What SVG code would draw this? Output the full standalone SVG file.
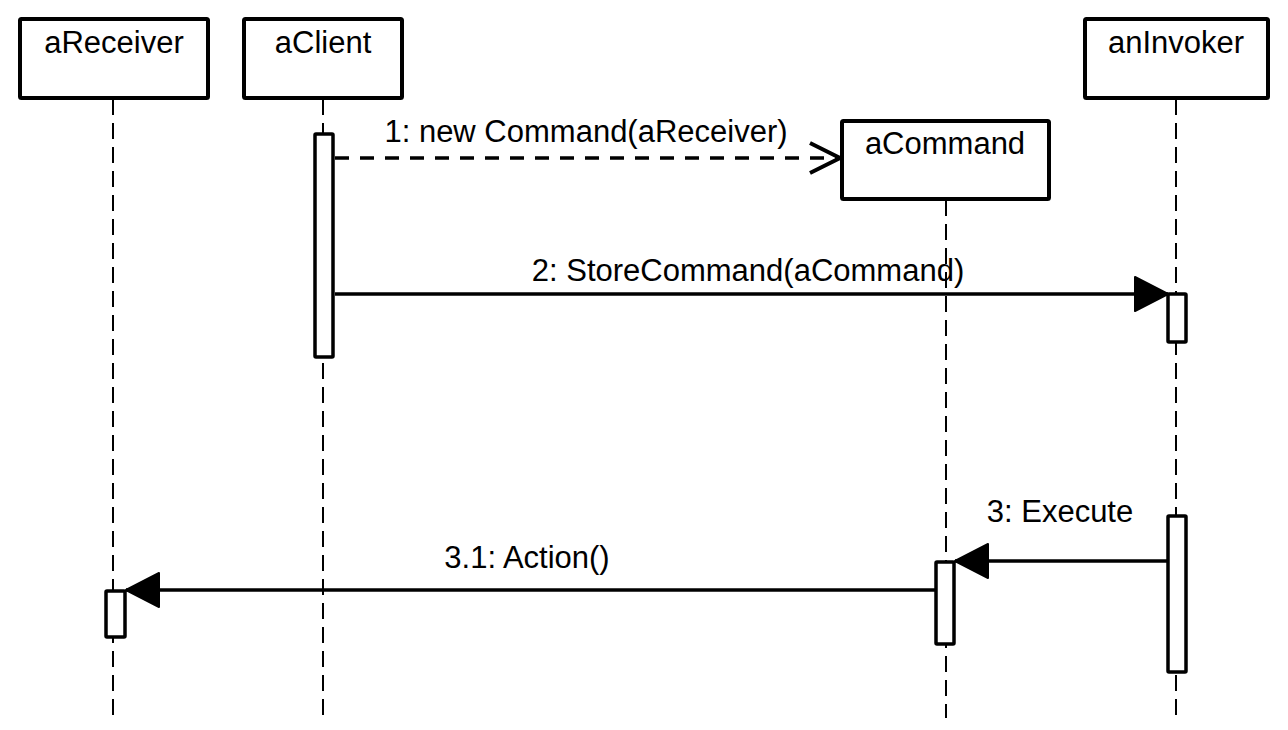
<svg xmlns="http://www.w3.org/2000/svg" width="1288" height="730" viewBox="0 0 1288 730">
<style>
.box{fill:#fff;stroke:#000;stroke-width:4;}
.act{fill:#fff;stroke:#000;stroke-width:3.5;}
.life{stroke:#000;stroke-width:2;stroke-dasharray:16 8;fill:none;}
.msg{stroke:#000;stroke-width:3.5;fill:none;}
.dash{stroke-dasharray:14 11;}
text{font-family:"Liberation Sans",Arial,sans-serif;font-size:31px;fill:#000;text-anchor:middle;}
</style>
<defs>
<marker id="filled" markerUnits="userSpaceOnUse" markerWidth="36" markerHeight="40" refX="34" refY="18" orient="auto" viewBox="0 0 36 36">
<path d="M1,1 L34,18 L1,35 Z" fill="#000" stroke="#000" stroke-width="2" stroke-linejoin="round"/>
</marker>
<marker id="open" markerUnits="userSpaceOnUse" markerWidth="36" markerHeight="36" refX="32" refY="17" orient="auto" viewBox="0 0 36 34">
<path d="M2,2 L32,17 L2,32" fill="none" stroke="#000" stroke-width="4"/>
</marker>
</defs>
<g id="lifelines">
<line class="life" x1="113" y1="99" x2="113" y2="718"/>
<line class="life" x1="323" y1="99" x2="323" y2="718"/>
<line class="life" x1="946" y1="200" x2="946" y2="718"/>
<line class="life" x1="1176" y1="99" x2="1176" y2="718"/>
</g>
<g id="aReceiver">
<rect class="box" x="20" y="19" width="188" height="79" rx="1.5"/>
<text x="114" y="53">aReceiver</text>
<rect class="act" x="106" y="591" width="19" height="46" rx="1"/>
</g>
<g id="aClient">
<rect class="box" x="244" y="19" width="158" height="79" rx="1.5"/>
<text x="323" y="53">aClient</text>
<rect class="act" x="315" y="134" width="18" height="223" rx="1"/>
</g>
<g id="aCommand">
<rect class="box" x="842" y="121" width="207" height="78" rx="1.5"/>
<text x="945" y="154">aCommand</text>
<rect class="act" x="936" y="562" width="18" height="82" rx="1"/>
</g>
<g id="anInvoker">
<rect class="box" x="1085" y="19" width="183" height="79" rx="1.5"/>
<text x="1176" y="53">anInvoker</text>
<rect class="act" x="1168" y="294" width="18" height="48" rx="1"/>
<rect class="act" x="1168" y="516" width="18" height="156" rx="1"/>
</g>
<g id="connectors">
<line class="msg dash" x1="335" y1="158" x2="840" y2="158" marker-end="url(#open)"/>
<text x="586" y="142">1: new Command(aReceiver)</text>
<line class="msg" x1="335" y1="294" x2="1168" y2="294" marker-end="url(#filled)"/>
<text x="748" y="281">2: StoreCommand(aCommand)</text>
<line class="msg" x1="1167" y1="561" x2="955" y2="561" marker-end="url(#filled)"/>
<text x="1060" y="522">3: Execute</text>
<line class="msg" x1="935" y1="590" x2="126" y2="590" marker-end="url(#filled)"/>
<text x="527" y="568">3.1: Action()</text>
</g>
</svg>
